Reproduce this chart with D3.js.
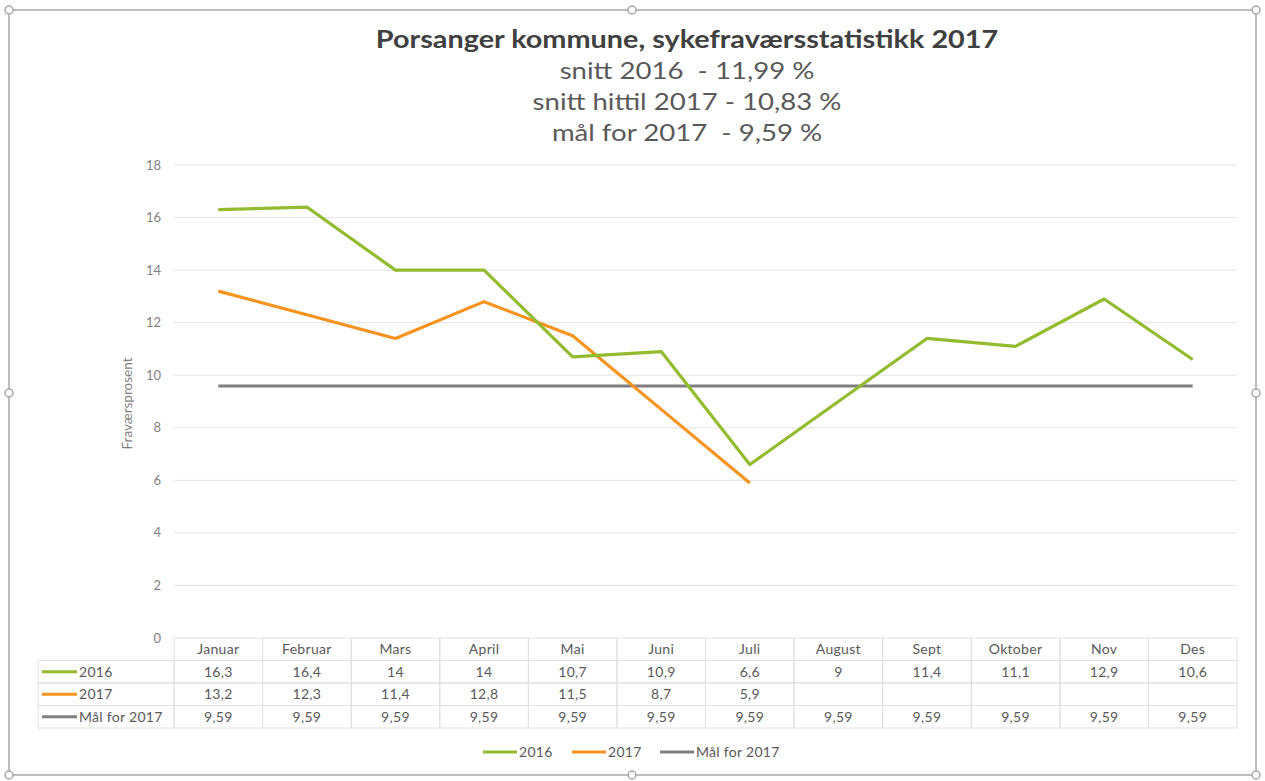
<!DOCTYPE html>
<html lang="no">
<head>
<meta charset="utf-8">
<title>Porsanger kommune, sykefraværsstatistikk 2017</title>
<script src="https://cdnjs.cloudflare.com/ajax/libs/d3/7.8.5/d3.min.js"></script>
<style>
  body { margin: 0; background: #fff; font-family: Lato, "Open Sans", sans-serif; }
  svg { display: block; }
  .grid line { stroke: #e3e3e3; stroke-width: 1; }
  .tick-label { fill: #7f7f7f; font-size: 13px; }
  .cell { fill: none; stroke: #e0e0e0; stroke-width: 1; }
  .cell-text { fill: #595959; font-size: 14px; letter-spacing: 0.3px; }
  .title { fill: #404040; font-size: 24px; font-weight: bold; white-space: pre; }
  .subtitle { fill: #595959; font-size: 23px; white-space: pre; }
</style>
</head>
<body>
<script>
  // chart data
  var months = ["Januar", "Februar", "Mars", "April", "Mai", "Juni", "Juli", "August", "Sept", "Oktober", "Nov", "Des"];
  var values2016 = [16.3, 16.4, 14, 14, 10.7, 10.9, 6.6, 9, 11.4, 11.1, 12.9, 10.6];
  var values2017 = [13.2, 12.3, 11.4, 12.8, 11.5, 8.7, 5.9, null, null, null, null, null];
  var goal2017 = [9.59, 9.59, 9.59, 9.59, 9.59, 9.59, 9.59, 9.59, 9.59, 9.59, 9.59, 9.59];
  var yTicks = [0, 2, 4, 6, 8, 10, 12, 14, 16, 18];
  var titleLines = ["Porsanger kommune, sykefraværsstatistikk 2017", "snitt 2016  - 11,99 %", "snitt hittil 2017 - 10,83 %", "mål for 2017  - 9,59 %"];

  var series = [
    { name: "2016", values: values2016, color: "#93bb2e" },
    { name: "2017", values: values2017, color: "#f7931e" },
    { name: "Mål for 2017", values: goal2017, color: "#7f7f7f" }
  ];

  var W = 1265, H = 781;
  var plot = { left: 174, right: 1237, top: 165, bottom: 638 };

  var svg = d3.select("body").append("svg")
      .attr("width", W)
      .attr("height", H);

  // selection frame around the chart object
  svg.append("rect")
      .attr("x", 9).attr("y", 10)
      .attr("width", 1247).attr("height", 765)
      .attr("fill", "none")
      .attr("stroke", "#bfbfbf")
      .attr("stroke-width", 2);

  var handles = [[9, 10], [632, 10], [1256, 10], [9, 393], [1256, 393], [9, 775], [632, 775], [1256, 775]];
  svg.selectAll("circle.handle")
      .data(handles)
      .enter()
      .append("circle")
      .attr("class", "handle")
      .attr("cx", function(d) { return d[0]; })
      .attr("cy", function(d) { return d[1]; })
      .attr("r", 4)
      .attr("fill", "#fff")
      .attr("stroke", "#a6a6a6")
      .attr("stroke-width", 1.5);

  var xScale = d3.scaleBand()
      .domain(months)
      .range([plot.left, plot.right]);

  var yScale = d3.scaleLinear()
      .domain([0, 18])
      .range([plot.bottom, plot.top]);

  // title (stretched a bit to get the width of the original wide font)
  svg.append("g")
      .attr("transform", "translate(687,0) scale(1.2,1)")
      .selectAll("text.tline")
      .data(titleLines)
      .enter()
      .append("text")
      .attr("class", function(d, i) { return i === 0 ? "tline title" : "tline subtitle"; })
      .attr("x", 0)
      .attr("y", function(d, i) { return 48 + i * 31; })
      .attr("text-anchor", "middle")
      .text(function(d) { return d; });

  // gridlines
  svg.append("g")
      .attr("class", "grid")
      .selectAll("line")
      .data(yTicks.slice(1))
      .enter()
      .append("line")
      .attr("x1", plot.left)
      .attr("x2", plot.right)
      .attr("y1", function(d) { return yScale(d); })
      .attr("y2", function(d) { return yScale(d); });

  // y tick labels
  svg.selectAll("text.tick-label")
      .data(yTicks)
      .enter()
      .append("text")
      .attr("class", "tick-label")
      .attr("x", 161)
      .attr("y", function(d) { return yScale(d); })
      .attr("dy", "0.35em")
      .attr("text-anchor", "end")
      .text(function(d) { return d; });

  // y axis title
  svg.append("text")
      .attr("class", "tick-label")
      .attr("transform", "translate(132," + ((plot.top + plot.bottom) / 2 + 2) + ") rotate(-90)")
      .attr("text-anchor", "middle")
      .style("font-size", "13.5px")
      .text("Fraværsprosent");

  // lines
  var line = d3.line()
      .defined(function(d) { return d != null; })
      .x(function(d, i) { return xScale(months[i]) + xScale.bandwidth() / 2; })
      .y(function(d) { return yScale(d); });

  svg.selectAll("path.series")
      .data(series.slice().reverse())
      .enter()
      .append("path")
      .attr("class", "series")
      .attr("d", function(d) { return line(d.values); })
      .attr("fill", "none")
      .attr("stroke", function(d) { return d.color; })
      .attr("stroke-width", 3.2)
      .attr("stroke-linejoin", "round");

  // data table
  var rowH = 22.5;
  var tableLeft = 38;
  var table = svg.append("g");

  // header row
  months.forEach(function(m) {
    table.append("rect")
        .attr("class", "cell")
        .attr("x", xScale(m)).attr("y", plot.bottom)
        .attr("width", xScale.bandwidth()).attr("height", rowH);
    table.append("text")
        .attr("class", "cell-text")
        .attr("x", xScale(m) + xScale.bandwidth() / 2)
        .attr("y", plot.bottom + rowH / 2)
        .attr("dy", "0.35em")
        .attr("text-anchor", "middle")
        .text(m);
  });

  series.forEach(function(s, r) {
    var y0 = plot.bottom + rowH * (r + 1);
    table.append("rect")
        .attr("class", "cell")
        .attr("x", tableLeft).attr("y", y0)
        .attr("width", plot.left - tableLeft).attr("height", rowH);
    table.append("line")
        .attr("x1", 42).attr("x2", 77)
        .attr("y1", y0 + rowH / 2).attr("y2", y0 + rowH / 2)
        .attr("stroke", s.color)
        .attr("stroke-width", 3.2);
    table.append("text")
        .attr("class", "cell-text")
        .attr("x", 79)
        .attr("y", y0 + rowH / 2)
        .attr("dy", "0.35em")
        .text(s.name);
    s.values.forEach(function(v, i) {
      table.append("rect")
          .attr("class", "cell")
          .attr("x", xScale(months[i])).attr("y", y0)
          .attr("width", xScale.bandwidth()).attr("height", rowH);
      if (v != null) {
        table.append("text")
            .attr("class", "cell-text")
            .attr("x", xScale(months[i]) + xScale.bandwidth() / 2)
            .attr("y", y0 + rowH / 2)
            .attr("dy", "0.35em")
            .attr("text-anchor", "middle")
            .text(String(v).replace(".", ","));
      }
    });
  });

  // legend
  var legendX = [483, 572, 660];
  var legend = svg.selectAll("g.legend")
      .data(series)
      .enter()
      .append("g")
      .attr("class", "legend")
      .attr("transform", function(d, i) { return "translate(" + legendX[i] + ",752)"; });

  legend.append("line")
      .attr("x1", 0).attr("x2", 34)
      .attr("stroke", function(d) { return d.color; })
      .attr("stroke-width", 3.2);

  legend.append("text")
      .attr("class", "cell-text")
      .attr("x", 36)
      .attr("dy", "0.35em")
      .text(function(d) { return d.name; });
</script>
</body>
</html>
